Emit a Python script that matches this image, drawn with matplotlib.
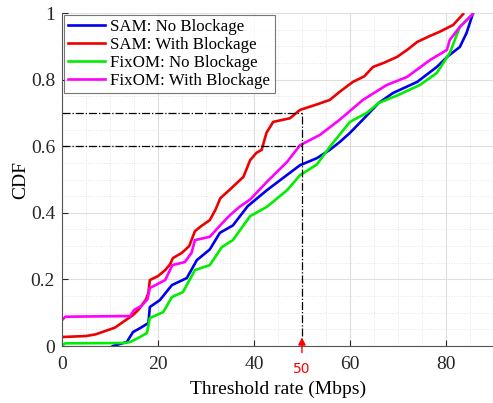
import numpy as np
import matplotlib
matplotlib.use('Agg')
import matplotlib.pyplot as plt
from matplotlib.ticker import MultipleLocator

plt.rcParams['font.family'] = ['Liberation Serif', 'DejaVu Serif']
plt.rcParams['mathtext.fontset'] = 'stix'

# CDF traces of the achievable rate (Mbps)
sam_nb_x = [10.6, 13.5, 14.8, 16.3, 18.0, 18.3, 20.4, 22.9, 26.0, 28.1, 30.8, 32.9, 35.6, 38.7,
            42.7, 46.0, 49.6, 53.1, 55.8, 57.9, 60.0, 62.7, 66.0, 69.0, 74.0, 78.1, 80.4, 82.9, 84.3, 85.6]
sam_nb_y = [0.0, 0.012, 0.042, 0.054, 0.069, 0.117, 0.138, 0.183, 0.204, 0.258, 0.29, 0.34, 0.362, 0.42,
            0.468, 0.504, 0.543, 0.564, 0.589, 0.613, 0.64, 0.68, 0.73, 0.76, 0.793, 0.838, 0.87, 0.898, 0.94, 0.997]

sam_wb_x = [0, 5, 7, 9, 11, 13, 14.8, 16, 17.5, 18.0, 18.3, 20, 21.5, 22.5, 23.1, 25, 26.5, 27.7, 29,
            30.8, 32, 33, 35, 37.8, 39.2, 40.5, 41.6, 42.6, 44, 47.5, 49.6, 53, 55.8, 58, 60.6, 63,
            64.8, 67, 69.8, 72, 74, 76.5, 78.75, 81.5, 83.6]
sam_wb_y = [0.027, 0.03, 0.035, 0.045, 0.055, 0.075, 0.093, 0.11, 0.14, 0.16, 0.198, 0.21, 0.228, 0.245,
            0.264, 0.28, 0.3, 0.345, 0.36, 0.378, 0.41, 0.444, 0.47, 0.508, 0.558, 0.58, 0.589, 0.64,
            0.673, 0.684, 0.709, 0.725, 0.739, 0.765, 0.793, 0.81, 0.838, 0.85, 0.868, 0.89, 0.913,
            0.93, 0.944, 0.964, 0.997]

fix_nb_x = [0, 0.6, 13, 14.2, 16, 17.7, 18.3, 21.1, 22.9, 25.2, 27.7, 30.8, 33.3, 35.6, 39.2, 42.7,
            46.9, 49.6, 53.1, 55.8, 60, 63.5, 66, 69.8, 74.6, 78.1, 80.8, 82.9, 85.6]
fix_nb_y = [0.0, 0.008, 0.009, 0.012, 0.025, 0.039, 0.084, 0.102, 0.147, 0.162, 0.228, 0.243, 0.297,
            0.318, 0.39, 0.418, 0.468, 0.513, 0.545, 0.598, 0.673, 0.7, 0.73, 0.752, 0.784, 0.82,
            0.88, 0.958, 0.997]

fix_wb_x = [0, 0.7, 14.2, 15, 16.5, 17.8, 18.3, 20.4, 21.5, 23, 25.6, 27, 27.7, 30.8, 33, 35, 37,
            39.2, 42.7, 46.9, 49.6, 53.75, 57.9, 62.7, 67.7, 71.9, 76.7, 80.2, 80.8, 82.9, 85.6]
fix_wb_y = [0.078, 0.088, 0.09, 0.108, 0.12, 0.14, 0.174, 0.19, 0.198, 0.243, 0.252, 0.28, 0.318,
            0.328, 0.363, 0.393, 0.418, 0.44, 0.493, 0.553, 0.603, 0.634, 0.68, 0.739, 0.784, 0.808,
            0.859, 0.889, 0.919, 0.958, 0.997]

ref_rate = 50
ref_cdf = [0.7, 0.6]

fig = plt.figure(figsize=(4.93, 4.03), dpi=100)
ax = fig.add_axes([0.1258, 0.1414, 0.876, 0.8263])

ax.plot(sam_nb_x, sam_nb_y, color='#0000ee', lw=1.9, label='SAM: No Blockage')
ax.plot(sam_wb_x, sam_wb_y, color='#ee0000', lw=1.9, label='SAM: With Blockage')
ax.plot(fix_nb_x, fix_nb_y, color='#00ee00', lw=1.9, label='FixOM: No Blockage')
ax.plot(fix_wb_x, fix_wb_y, color='#ff00ff', lw=1.9, label='FixOM: With Blockage')

# reference lines at 50 Mbps
for c in ref_cdf:
    ax.plot([0, ref_rate], [c, c], color='black', lw=0.9, ls='-.')
ax.plot([ref_rate, ref_rate], [0.03, max(ref_cdf)], color='black', lw=0.9, ls='-.')

ax.annotate(str(ref_rate), xy=(ref_rate, 0.026), xytext=(ref_rate, -0.07),
            ha='center', va='center', color='red', fontsize=10, family='DejaVu Sans',
            annotation_clip=False,
            arrowprops=dict(arrowstyle='-|>', color='red', lw=1.0, mutation_scale=11,
                            shrinkA=5, shrinkB=0))

ax.set_xlim(0, 90)
ax.set_ylim(0, 1)
ax.xaxis.set_minor_locator(MultipleLocator(5))
ax.yaxis.set_minor_locator(MultipleLocator(0.05))
ax.set_xticks([0, 20, 40, 60, 80])
ax.set_yticks([0, 0.2, 0.4, 0.6, 0.8, 1])
ax.set_yticklabels(['0', '0.2', '0.4', '0.6', '0.8', '1'])
ax.grid(True, which='major', color='#dedede', lw=0.8)
ax.grid(True, which='minor', color='#e3e3e3', lw=0.7, ls=':')
ax.set_axisbelow(True)
ax.tick_params(which='major', direction='in', length=4, labelsize=14, colors='#262626')
ax.tick_params(axis='x', pad=7)
ax.tick_params(axis='y', pad=5)
ax.tick_params(which='minor', length=0)
for s in ['top', 'right']:
    ax.spines[s].set_visible(False)
for s in ['left', 'bottom']:
    ax.spines[s].set_color('#555555')

ax.set_xlabel('Threshold rate (Mbps)', fontsize=14, labelpad=6)
ax.set_ylabel('CDF', fontsize=14, labelpad=1)

leg = ax.legend(loc='upper left', fontsize=12.2, frameon=True, fancybox=False,
                borderaxespad=0.1, handlelength=2.2, handletextpad=0.3,
                labelspacing=0.12, borderpad=0.25)
leg.get_frame().set_edgecolor('#555555')
leg.get_frame().set_linewidth(0.8)

fig.savefig('out.png', dpi=100)
